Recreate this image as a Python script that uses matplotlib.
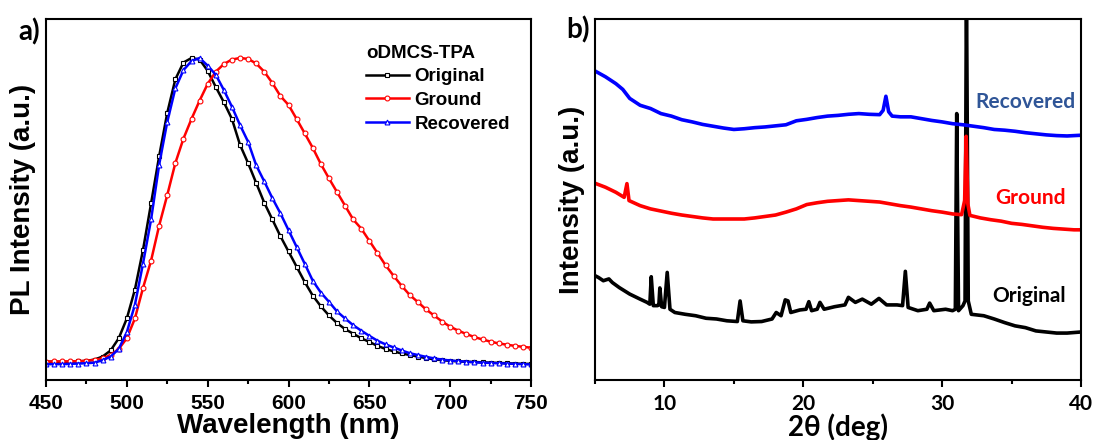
import numpy as np
import matplotlib
matplotlib.use("Agg")
import matplotlib.pyplot as plt
from matplotlib.ticker import MultipleLocator

plt.rcParams['font.family'] = ['Liberation Sans', 'DejaVu Sans']
plt.rcParams['font.weight'] = 'bold'
plt.rcParams['axes.labelweight'] = 'bold'
plt.rcParams['axes.linewidth'] = 1.5

ARIAL = ['Liberation Sans', 'DejaVu Sans']
CAL = ['Lato', 'Open Sans', 'DejaVu Sans']   # calibri-like text in panel b

#%% a) PL spectra (normalised, every 5 nm)
wavelength = np.arange(450, 755, 5)
pl_ticks = [450, 500, 550, 600, 650, 700, 750]

pl_original = [0.003, 0.003, 0.002, 0.003, 0.004, 0.006, 0.010, 0.020, 0.040, 0.080,
               0.145, 0.240, 0.370, 0.523, 0.678, 0.820, 0.930, 0.985, 1.000, 0.995,
               0.958, 0.905, 0.855, 0.800, 0.715, 0.655, 0.590, 0.525, 0.470, 0.415,
               0.365, 0.315, 0.265, 0.220, 0.185, 0.155, 0.130, 0.110, 0.095, 0.080,
               0.068, 0.055, 0.045, 0.037, 0.030, 0.025, 0.020, 0.015, 0.011, 0.008,
               0.006, 0.004, 0.003, 0.002, 0.001, 0.000, -0.001, -0.002, -0.003, -0.004,
               -0.004]
pl_ground = [0.003, 0.004, 0.004, 0.004, 0.005, 0.006, 0.009, 0.014, 0.025, 0.045,
             0.080, 0.145, 0.245, 0.335, 0.450, 0.550, 0.655, 0.735, 0.800, 0.860,
             0.915, 0.955, 0.980, 0.995, 1.000, 0.997, 0.982, 0.955, 0.918, 0.875,
             0.846, 0.800, 0.753, 0.705, 0.652, 0.605, 0.560, 0.515, 0.470, 0.440,
             0.400, 0.360, 0.320, 0.285, 0.252, 0.222, 0.199, 0.175, 0.155, 0.135,
             0.118, 0.105, 0.094, 0.084, 0.076, 0.069, 0.063, 0.059, 0.055, 0.052,
             0.049]
pl_recovered = [-0.005, -0.005, -0.005, -0.004, -0.003, -0.002, 0.000, 0.008, 0.020, 0.045,
                0.100, 0.190, 0.325, 0.470, 0.650, 0.790, 0.900, 0.960, 0.990, 1.000,
                0.975, 0.945, 0.895, 0.840, 0.780, 0.725, 0.648, 0.595, 0.540, 0.490,
                0.435, 0.380, 0.325, 0.269, 0.230, 0.200, 0.168, 0.145, 0.123, 0.105,
                0.088, 0.072, 0.060, 0.050, 0.040, 0.031, 0.025, 0.019, 0.014, 0.010,
                0.007, 0.005, 0.003, 0.001, 0.000, -0.001, -0.002, -0.003, -0.004, -0.005,
                -0.006]

#%% b) XRD patterns (intensity in axis percent, offset traces)
xrd_ticks = [10, 20, 30, 40]

tt_recovered = [5, 5.75, 6.5, 7, 7.5, 8.25, 9, 9.75, 10.5, 11.25,
                12, 12.75, 13.5, 14.25, 15, 15.75, 16.5, 17.25, 18, 18.75,
                19.5, 20.25, 21, 21.75, 22.5, 23.25, 24, 24.75, 25.5, 25.75,
                25.95, 26.15, 26.4, 27, 27.75, 28.5, 29.25, 30, 30.75, 31.5,
                32.25, 33, 33.75, 34.5, 35.25, 36, 36.75, 37.5, 38.25, 39,
                40]
xrd_recovered = [85.6, 84.0, 82.1, 80.5, 78.0, 76.1, 75.2, 73.8, 73.1, 72.1,
                 71.5, 70.8, 70.3, 69.8, 69.4, 69.6, 69.9, 70.1, 70.4, 70.7,
                 71.8, 72.2, 72.7, 73.1, 73.3, 73.6, 73.8, 73.6, 73.5, 74.7,
                 78.6, 74.3, 73.1, 72.9, 72.9, 72.4, 71.9, 71.5, 71.0, 70.7,
                 70.3, 69.9, 69.4, 69.2, 68.9, 68.5, 68.2, 67.9, 67.7, 67.6,
                 67.8]

tt_ground = [5, 5.75, 6.5, 7.1, 7.3, 7.45, 8.25, 9, 9.75, 10.5,
             11.25, 12, 12.75, 13.5, 14.25, 15, 15.75, 16.5, 17.25, 18,
             18.75, 19.5, 20.25, 21, 21.75, 22.5, 23.25, 24, 24.75, 25.5,
             26.25, 27, 27.75, 28.5, 29.25, 30, 30.75, 31.4, 31.62, 31.73,
             31.85, 32, 32.75, 33.5, 34.25, 35, 35.75, 36.5, 37.25, 38,
             38.75, 39.5, 40]
xrd_ground = [54.5, 53.4, 52.0, 50.6, 54.4, 49.7, 48.3, 47.4, 46.8, 46.2,
              45.7, 45.3, 44.9, 44.6, 44.6, 44.6, 44.6, 44.9, 45.3, 45.7,
              46.5, 47.4, 48.6, 49.1, 49.5, 49.7, 49.9, 49.7, 49.5, 49.3,
              48.8, 48.3, 47.9, 47.4, 46.9, 46.5, 46.0, 45.8, 49.7, 67.5,
              48.8, 45.6, 44.9, 44.4, 44.0, 43.4, 43.1, 42.7, 42.3, 42.0,
              41.8, 41.6, 41.6]

tt_original = [5, 5.25, 5.6, 6.0, 6.25, 6.75, 7.5, 8.25, 8.75, 8.95,
               9.05, 9.2, 9.5, 9.6, 9.67, 9.8, 10.0, 10.2, 10.4, 10.75,
               11.5, 12.25, 13, 13.75, 14.5, 15.25, 15.45, 15.65, 16.25, 17,
               17.75, 18.05, 18.4, 18.7, 18.9, 19.1, 19.75, 20.2, 20.4, 20.6,
               21.0, 21.2, 21.5, 22.25, 23, 23.25, 23.75, 24.25, 24.9, 25.45,
               26, 26.75, 27.15, 27.35, 27.55, 28.25, 28.9, 29.1, 29.4, 30.25,
               30.75, 30.95, 31.05, 31.18, 31.5, 31.65, 31.75, 31.88, 32.1, 33,
               33.75, 34.5, 35.25, 36, 36.75, 37.5, 38.25, 39, 40]
xrd_original = [28.9, 28.4, 27.5, 28.0, 27.0, 25.6, 23.8, 22.4, 21.5, 21.0,
                28.6, 20.6, 20.6, 20.8, 25.5, 20.3, 20.1, 29.8, 19.6, 18.7,
                18.2, 17.8, 17.1, 16.9, 16.4, 16.2, 21.9, 16.4, 16.1, 16.2,
                16.9, 18.7, 17.8, 22.2, 21.9, 18.7, 19.4, 19.6, 21.7, 19.2,
                19.6, 21.5, 19.6, 20.3, 20.8, 22.9, 21.5, 22.4, 21.0, 22.6,
                20.8, 20.8, 20.6, 30.1, 20.1, 19.2, 19.6, 21.3, 19.2, 19.6,
                19.2, 19.6, 73.8, 19.2, 20.6, 21.9, 110.0, 21.9, 18.2, 17.8,
                16.9, 15.9, 15.0, 14.5, 13.6, 13.3, 13.0, 13.0, 13.3]

#%% figure
fig = plt.figure(figsize=(10.94, 4.4), dpi=100)
W, H = 1094, 440
ax1 = fig.add_axes([46 / W, 60 / H, 485 / W, 361 / H])
ax2 = fig.add_axes([595 / W, 60 / H, 486 / W, 361 / H])

mk = dict(markersize=3.5, markerfacecolor='white', markeredgewidth=0.8, linewidth=1.8)
ax1.plot(wavelength, pl_original, '-s', color='black', label='Original', **mk)
ax1.plot(wavelength, pl_ground, '-o', color='red', label='Ground', **mk)
ax1.plot(wavelength, pl_recovered, '-^', color='blue', label='Recovered', **mk)

ax1.set_xlim(450, 750)
ax1.set_ylim(-0.057, 1.128)
ax1.tick_params(axis='x', which='both', direction='out', width=1.5, pad=5)
ax1.tick_params(axis='x', which='major', length=5)
ax1.tick_params(axis='x', which='minor', length=3)
ax1.set_xticks(pl_ticks)
ax1.xaxis.set_minor_locator(MultipleLocator(25))
ax1.set_yticks([])
ax1.set_xlabel('Wavelength (nm)', fontsize=20, fontweight='bold', labelpad=0)
ax1.set_ylabel('PL Intensity (a.u.)', fontsize=20, fontweight='bold', labelpad=7)

leg = ax1.legend(title='oDMCS-TPA', loc='upper left', bbox_to_anchor=(0.64, 0.955),
                 frameon=False, numpoints=1,
                 prop=dict(size=13.5, weight='bold'),
                 handlelength=2.3, handletextpad=0.3, labelspacing=0.35,
                 borderpad=0, alignment='left')
leg.get_title().set_fontweight('bold')
leg.get_title().set_fontsize(13.5)

ax2.plot(tt_original, xrd_original, color='black', linewidth=2.6)
ax2.plot(tt_ground, xrd_ground, color='red', linewidth=2.6)
ax2.plot(tt_recovered, xrd_recovered, color='blue', linewidth=2.6)

ax2.set_xlim(5, 40)
ax2.set_ylim(0, 100)
ax2.tick_params(axis='x', which='both', direction='out', width=1.5, pad=5)
ax2.tick_params(axis='x', which='major', length=5)
ax2.tick_params(axis='x', which='minor', length=3)
ax2.set_xticks(xrd_ticks)
ax2.xaxis.set_minor_locator(MultipleLocator(5))
ax2.set_yticks([])
ax2.set_xlabel('2θ (deg)', fontsize=20, family=CAL, fontweight='bold', labelpad=0)
ax2.set_ylabel('Intensity (a.u.)', fontsize=20, fontweight='bold', labelpad=7)

ax2.text(39.6, 77.0, 'Recovered', color='#2F5597', fontsize=15, family=CAL,
         fontweight='bold', ha='right', va='center')
ax2.text(38.9, 50.3, 'Ground', color='red', fontsize=15, family=CAL,
         fontweight='bold', ha='right', va='center')
ax2.text(38.9, 23.3, 'Original', color='black', fontsize=15, family=CAL,
         fontweight='bold', ha='right', va='center')

fig.text(29 / W, 1 - 32 / H, 'a)', fontsize=20, family=CAL, fontweight='bold',
         ha='center', va='center')
fig.text(578 / W, 1 - 30 / H, 'b)', fontsize=20, family=CAL, fontweight='bold',
         ha='center', va='center')

# tick label fonts, set after a draw so every label object exists
fig.canvas.draw()
for lab in ax1.get_xticklabels():
    lab.set_fontproperties(dict(family=ARIAL, size=15, weight='bold'))
for lab in ax2.get_xticklabels():
    lab.set_fontproperties(dict(family=CAL, size=15, weight='bold'))

fig.savefig('out.png', dpi=100)
